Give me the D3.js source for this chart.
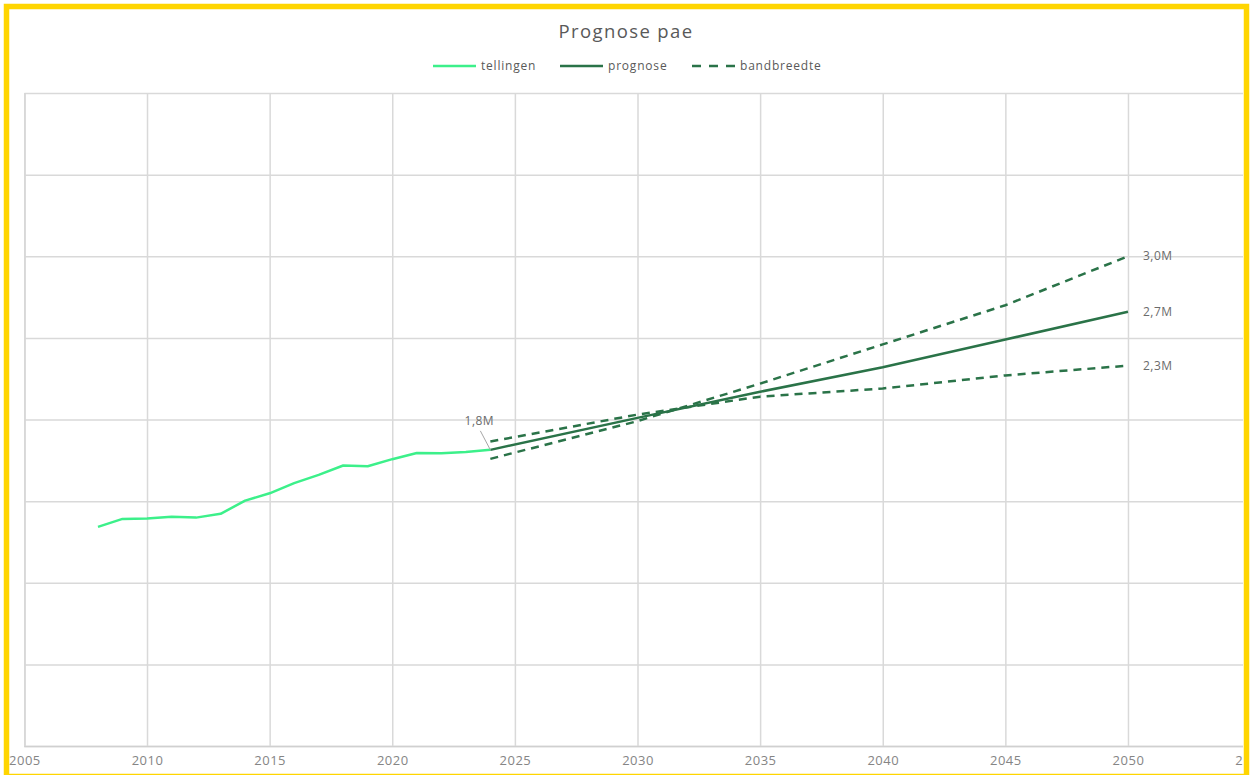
<!DOCTYPE html>
<html>
<head>
<meta charset="utf-8">
<script src="https://cdn.jsdelivr.net/npm/d3@7"></script>
<style>
  body { margin: 0; background: #fff; }
  svg { display: block; font-family: "Open Sans", sans-serif; }
</style>
</head>
<body>
<div id="chart"></div>
<script>
// tellingen (gemeten) per jaar
var tellJaren = [2008, 2009, 2010, 2011, 2012, 2013, 2014, 2015, 2016, 2017, 2018, 2019, 2020, 2021, 2022, 2023, 2024];
var tellingen = [1.342, 1.391, 1.393, 1.405, 1.399, 1.422, 1.503, 1.548, 1.610, 1.661, 1.718, 1.714, 1.757, 1.795, 1.793, 1.801, 1.814];

// prognose + bandbreedte (miljoen)
var progJaren = [2024, 2030, 2035, 2040, 2045, 2050];
var prognose  = [1.814, 2.01, 2.17, 2.32, 2.49, 2.66];
var bandHoog  = [1.759, 1.99, 2.22, 2.46, 2.70, 3.00];
var bandLaag  = [1.865, 2.03, 2.14, 2.19, 2.27, 2.33];

var xTicks = [2005, 2010, 2015, 2020, 2025, 2030, 2035, 2040, 2045, 2050, 2055];
var yTicks = [0, 0.5, 1, 1.5, 2, 2.5, 3, 3.5, 4];

var W = 1255, H = 775;
var margin = { top: 93, left: 24.4, bottom: 29 };
var plotRight = 1250.6;

var svg = d3.select("#chart").append("svg")
    .attr("width", W)
    .attr("height", H);

// clip to the inside of the yellow frame
svg.append("clipPath").attr("id", "inner")
  .append("rect").attr("x", 9).attr("y", 9).attr("width", 1234).attr("height", 770);

var g = svg.append("g").attr("clip-path", "url(#inner)");

var x = d3.scaleLinear().domain([2005, 2055]).range([margin.left, plotRight]);
var y = d3.scaleLinear().domain([0, 4]).range([H - margin.bottom, margin.top]);

// horizontal gridlines
g.append("g")
  .attr("transform", `translate(${margin.left},0)`)
  .call(d3.axisLeft(y).tickValues(yTicks).tickSize(-(plotRight - margin.left)).tickFormat(""))
  .call(a => a.select(".domain").remove())
  .call(a => a.selectAll("line").attr("stroke", "#d9d9d9").attr("stroke-width", 1.5));

// vertical gridlines + labels
g.append("g")
  .attr("transform", `translate(0,${H - margin.bottom})`)
  .call(d3.axisBottom(x).tickValues(xTicks).tickSize(-(H - margin.bottom - margin.top)).tickPadding(10).tickFormat(d3.format("d")))
  .call(a => a.select(".domain").attr("stroke", "#d0d0d0").attr("stroke-width", 1.5))
  .call(a => a.selectAll("line").attr("stroke", "#d9d9d9").attr("stroke-width", 1.5))
  .call(a => a.selectAll("text")
      .attr("fill", "#858585")
      .attr("font-size", 13)
      .attr("letter-spacing", 0.5)
      .attr("font-family", "Open Sans, sans-serif"));

var line = d3.line().x(d => x(d[0])).y(d => y(d[1]));
var donker = "#2a7348";

g.append("path")
  .datum(tellJaren.map((j, i) => [j, tellingen[i]]))
  .attr("d", line)
  .attr("fill", "none")
  .attr("stroke", "#3cf08a")
  .attr("stroke-width", 2.5)
  .attr("stroke-linejoin", "round");

[bandHoog, bandLaag].forEach(function(s) {
  g.append("path")
    .datum(progJaren.map((j, i) => [j, s[i]]))
    .attr("d", line)
    .attr("fill", "none")
    .attr("stroke", donker)
    .attr("stroke-width", 2.5)
    .attr("stroke-dasharray", "8,6");
});

g.append("path")
  .datum(progJaren.map((j, i) => [j, prognose[i]]))
  .attr("d", line)
  .attr("fill", "none")
  .attr("stroke", donker)
  .attr("stroke-width", 2.5);

// data labels
var labelKleur = "#6b6b6b";
var eind = [[3.00, "3,0M"], [2.66, "2,7M"], [2.33, "2,3M"]];
eind.forEach(function(d) {
  g.append("text")
    .attr("x", x(2050) + 15)
    .attr("y", y(d[0]))
    .attr("dy", "0.35em")
    .attr("fill", labelKleur)
    .attr("font-size", 12)
    .attr("letter-spacing", 0.5)
    .text(d[1]);
});

var sx = x(2024), sy = y(tellingen[tellingen.length - 1]);
g.append("line")
  .attr("x1", sx).attr("y1", sy)
  .attr("x2", sx - 10).attr("y2", sy - 19)
  .attr("stroke", "#a6a6a6").attr("stroke-width", 1);
g.append("text")
  .attr("x", sx - 11)
  .attr("y", sy - 25)
  .attr("text-anchor", "middle")
  .attr("fill", labelKleur)
  .attr("font-size", 12)
  .attr("letter-spacing", 0.5)
  .text("1,8M");

// title
svg.append("text")
  .attr("x", 626)
  .attr("y", 38)
  .attr("text-anchor", "middle")
  .attr("fill", "#595959")
  .attr("font-size", 18.5)
  .attr("letter-spacing", 1.4)
  .text("Prognose pae");

// legend
var legend = [
  { naam: "tellingen", x: 433, kleur: "#3cf08a", dash: null },
  { naam: "prognose", x: 560, kleur: donker, dash: null },
  { naam: "bandbreedte", x: 692, kleur: donker, dash: "9,8" }
];
var lg = svg.append("g").attr("transform", "translate(0,66)");
legend.forEach(function(d) {
  lg.append("line")
    .attr("x1", d.x).attr("x2", d.x + 43)
    .attr("stroke", d.kleur)
    .attr("stroke-width", 2.5)
    .attr("stroke-dasharray", d.dash);
  lg.append("text")
    .attr("x", d.x + 48)
    .attr("dy", "0.35em")
    .attr("fill", "#595959")
    .attr("font-size", 12)
    .attr("letter-spacing", 0.8)
    .text(d.naam);
});

// yellow frame
svg.append("rect")
  .attr("x", 6.5).attr("y", 6.5)
  .attr("width", 1240).attr("height", 770)
  .attr("fill", "none")
  .attr("stroke", "#ffd500")
  .attr("stroke-width", 5.5);
</script>
</body>
</html>
